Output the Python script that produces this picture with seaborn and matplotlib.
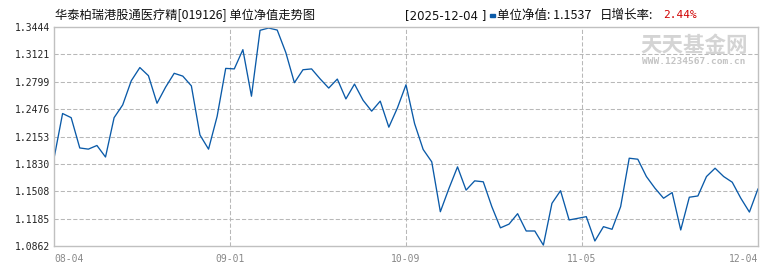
import numpy as np
import pandas as pd
import matplotlib
matplotlib.use("Agg")
import matplotlib.pyplot as plt
import seaborn as sns

title = "华泰柏瑞港股通医疗精[019126] 单位净值走势图"
last_date = "[2025-12-04 ]"
nav_label = "单位净值:"
last_nav = "1.1537"
growth_label = "日增长率:"
growth_value = "2.44%"

date_labels = ["08-04", "09-01", "10-09", "11-05", "12-04"]
ytick_values = [1.0862, 1.1185, 1.1508, 1.1830, 1.2153, 1.2476, 1.2799, 1.3121, 1.3444]
ytick_labels = ["1.0862", "1.1185", "1.1508", "1.1830", "1.2153", "1.2476", "1.2799", "1.3121", "1.3444"]

nav = [
    1.1895, 1.2424, 1.2375, 1.2018, 1.2004, 1.2047, 1.1911, 1.2375, 1.2525, 1.2810,
    1.2966, 1.2870, 1.2545, 1.2735, 1.2898, 1.2865, 1.2750, 1.2171, 1.2004, 1.2390,
    1.2956, 1.2950, 1.3177, 1.2628, 1.3405, 1.3432, 1.3408, 1.3143, 1.2787, 1.2940,
    1.2950, 1.2832, 1.2724, 1.2830, 1.2596, 1.2771, 1.2580, 1.2452, 1.2570, 1.2263,
    1.2490, 1.2763, 1.2305, 1.2000, 1.1854, 1.1266, 1.1540, 1.1795, 1.1521, 1.1630,
    1.1619, 1.1325, 1.1076, 1.1120, 1.1243, 1.1039, 1.1039, 1.0872, 1.1365, 1.1514,
    1.1169, 1.1188, 1.1208, 1.0921, 1.1090, 1.1059, 1.1326, 1.1897, 1.1885, 1.1681,
    1.1543, 1.1425, 1.1492, 1.1051, 1.1437, 1.1452, 1.1681, 1.1779, 1.1681, 1.1614,
    1.1425, 1.1262, 1.1537,
]

df = pd.DataFrame({"idx": np.arange(len(nav)), "nav": nav})

sns.set_style("white")
plt.rcParams["font.family"] = ["Noto Sans CJK SC", "DejaVu Sans"]

W, H = 770, 270
fig = plt.figure(figsize=(W / 100, H / 100), dpi=100)
ax = fig.add_axes([54 / W, 24 / H, (758 - 54) / W, (246 - 27) / H])

line_color = "#0a5aa8"
grid_color = "#b8b8b8"
frame_color = "#c0c0c0"

sns.lineplot(data=df, x="idx", y="nav", ax=ax, color=line_color, linewidth=0.95)

n = len(nav)
xticks = np.linspace(0, n - 1, len(date_labels))
ax.set_xlim(0, n - 1)
ax.set_ylim(ytick_values[0], ytick_values[-1])

for y in ytick_values[1:-1]:
    ax.axhline(y, color=grid_color, lw=0.75, dashes=(4, 2), zorder=0)
for x in xticks[1:-1]:
    ax.axvline(x, color=grid_color, lw=0.75, dashes=(4, 2), zorder=0)

ax.set_yticks(ytick_values)
ax.set_yticklabels(ytick_labels, family="DejaVu Sans Mono", fontsize=7, color="#222222")
ax.set_xticks(xticks)
ax.set_xticklabels(date_labels, family="DejaVu Sans Mono", fontsize=7, color="#888888")
lbls = ax.get_xticklabels()
lbls[0].set_ha("left")
lbls[-1].set_ha("right")
ax.tick_params(axis="both", length=0)
ax.tick_params(axis="y", pad=3)
ax.tick_params(axis="x", pad=6)
ax.set_xlabel("")
ax.set_ylabel("")
for s in ax.spines.values():
    s.set_color(frame_color)
    s.set_linewidth(1.0)

def fx(px):
    return px / W

def fy(py):
    return 1 - py / H

fig.text(fx(55), fy(15), title, fontsize=8.8, color="#111111", ha="left", va="center")
fig.text(fx(405), fy(15.5), last_date, fontsize=8.5, color="#111111", ha="left", va="center",
         family=["DejaVu Sans", "Noto Sans CJK SC"])
fig.patches.append(plt.Rectangle((fx(490), fy(17)), 5 / W, 3 / H, transform=fig.transFigure,
                                 color=line_color, figure=fig))
fig.text(fx(497), fy(15.5), nav_label + " " + last_nav, fontsize=9, color="#111111",
         ha="left", va="center")
fig.text(fx(600), fy(15.5), growth_label, fontsize=9, color="#111111", ha="left", va="center")
fig.text(fx(663), fy(15.5), growth_value, fontsize=8, color="#d00000", ha="left", va="center",
         family="DejaVu Sans Mono")

fig.text(fx(694), fy(46), "天天基金网", fontsize=15.5, color="#d4d4d4", ha="center", va="center",
         fontweight="bold", zorder=1)
fig.text(fx(694), fy(61.5), "WWW.1234567.com.cn", fontsize=6.8, color="#c4c4c4", ha="center",
         va="center", family="DejaVu Sans Mono", fontweight="bold")

fig.savefig("out.png", dpi=100)
